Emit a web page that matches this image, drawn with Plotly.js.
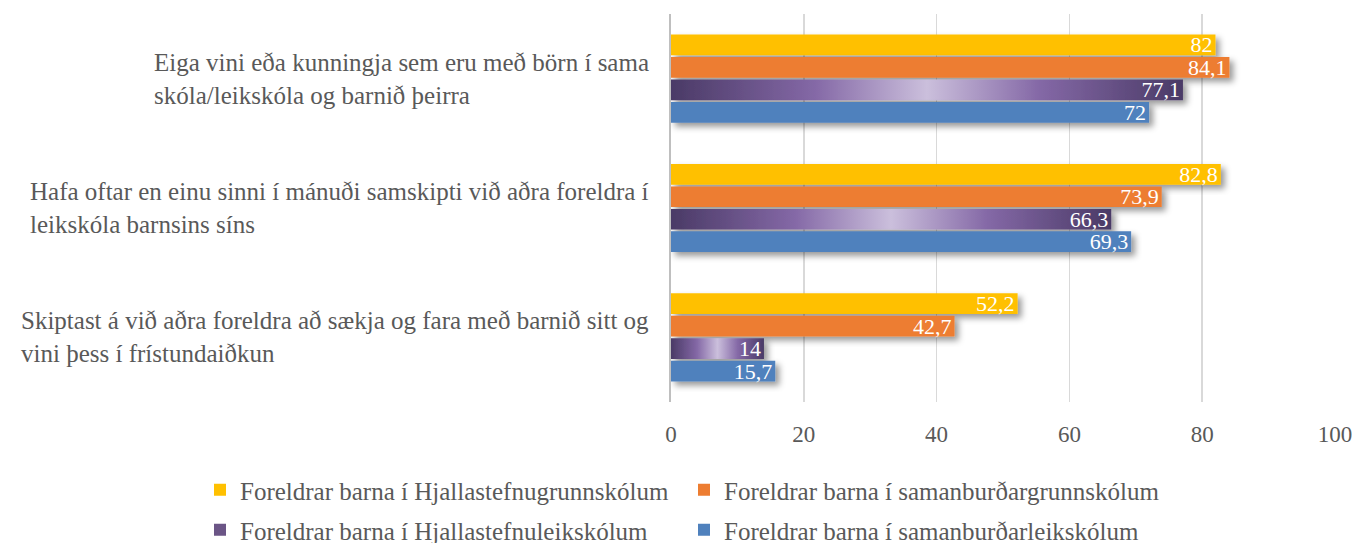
<!DOCTYPE html>
<html>
<head>
<meta charset="utf-8">
<script src="https://cdn.plot.ly/plotly-3.0.1.min.js"></script>
<style>html,body{margin:0;padding:0;background:#fff;}#chart{width:1357px;height:543px;}</style>
</head>
<body>
<div id="chart"></div>
<script>
// ---- data ----
const categories = [
  'Eiga vini eða kunningja sem eru með börn í sama<br>skóla/leikskóla og barnið þeirra',
  'Hafa oftar en einu sinni í mánuði samskipti við aðra foreldra í<br>leikskóla barnsins síns',
  'Skiptast á við aðra foreldra að sækja og fara með barnið sitt og<br>vini þess í frístundaiðkun'
];
const seriesNames = [
  'Foreldrar barna í Hjallastefnugrunnskólum',
  'Foreldrar barna í samanburðargrunnskólum',
  'Foreldrar barna í Hjallastefnuleikskólum',
  'Foreldrar barna í samanburðarleikskólum'
];
const hjallaGrunn = [82, 82.8, 52.2];
const samanGrunn = [84.1, 73.9, 42.7];
const hjallaLeik = [77.1, 66.3, 14];
const samanLeik = [72, 69.3, 15.7];
const xTicks = [0, 20, 40, 60, 80, 100];

// ---- styling ----
const FONT = 'Liberation Serif, Times New Roman, serif';
const GREY = '#595959';
const colors = ['#FFC000', '#ED7D31', '#6B5586', '#4F81BD'];
const seriesValues = [hjallaGrunn, samanGrunn, hjallaLeik, samanLeik];
const legendIds = ['legend', 'legend2', 'legend3', 'legend4'];
const fmt = v => String(v).replace('.', ',');

const traces = seriesValues.map((vals, i) => ({
  type: 'bar',
  orientation: 'h',
  name: seriesNames[i],
  y: categories,
  x: vals,
  text: vals.map(fmt),
  textposition: 'inside',
  insidetextanchor: 'end',
  textangle: 0,
  constraintext: 'none',
  textfont: {family: FONT, size: 22, color: '#ffffff'},
  marker: {color: colors[i], line: {width: 0}},
  legend: legendIds[i],
  hoverinfo: 'x+name'
}));

const annotations = categories.map(c => ({
  text: c,
  xref: 'paper', x: 0, xanchor: 'right', xshift: -20,
  yref: 'y', y: c, yanchor: 'middle',
  align: 'left',
  showarrow: false,
  font: {family: FONT, size: 25, color: GREY}
}));

function legendAt(px, py) {
  return {
    orientation: 'h',
    xref: 'container', x: px / 1357, xanchor: 'left',
    yref: 'container', y: 1 - py / 543, yanchor: 'middle',
    font: {family: FONT, size: 25, color: GREY},
    bgcolor: 'rgba(0,0,0,0)'
  };
}

const layout = {
  width: 1357, height: 543,
  margin: {l: 671, r: 22, t: 14, b: 141},
  paper_bgcolor: '#ffffff', plot_bgcolor: '#ffffff',
  barmode: 'group',
  bargap: 0.305,
  bargroupgap: 0.08,
  showlegend: true,
  xaxis: {
    range: [0, 100],
    tickvals: xTicks,
    ticktext: xTicks.map(String),
    showgrid: true, gridcolor: '#d9d9d9', gridwidth: 1.5,
    zeroline: false, showline: false,
    ticks: '',
    ticklabelstandoff: 16,
    tickfont: {family: FONT, size: 23, color: GREY},
    fixedrange: true
  },
  yaxis: {
    type: 'category',
    autorange: 'reversed',
    showticklabels: false,
    showgrid: false, zeroline: false,
    showline: true, linecolor: '#bfbfbf', linewidth: 2,
    ticks: '',
    fixedrange: true
  },
  legend: legendAt(200, 490),
  legend2: legendAt(684, 490),
  legend3: legendAt(200, 530),
  legend4: legendAt(684, 530),
  annotations: annotations
};

function decorate() {
  const svg = document.querySelector('#chart .main-svg');
  if (!svg) return;
  const NS = 'http://www.w3.org/2000/svg';
  let defs = svg.querySelector('defs');
  if (!defs) { defs = document.createElementNS(NS, 'defs'); svg.insertBefore(defs, svg.firstChild); }
  if (!document.getElementById('pgrad')) {
    const g = document.createElementNS(NS, 'linearGradient');
    g.setAttribute('id', 'pgrad');
    g.setAttribute('x1', '0'); g.setAttribute('x2', '1'); g.setAttribute('y1', '0'); g.setAttribute('y2', '0');
    [[0, '#4a3a66'], [0.28, '#8468a6'], [0.5, '#cbbfdc'], [0.72, '#8468a6'], [1, '#4a3a66']].forEach(([o, c]) => {
      const s = document.createElementNS(NS, 'stop');
      s.setAttribute('offset', o); s.setAttribute('stop-color', c);
      g.appendChild(s);
    });
    defs.appendChild(g);
    const f = document.createElementNS(NS, 'filter');
    f.setAttribute('id', 'bshadow');
    f.setAttribute('x', '-10%'); f.setAttribute('y', '-30%');
    f.setAttribute('width', '130%'); f.setAttribute('height', '180%');
    const d = document.createElementNS(NS, 'feDropShadow');
    d.setAttribute('dx', '4'); d.setAttribute('dy', '4'); d.setAttribute('stdDeviation', '3');
    d.setAttribute('flood-color', '#000'); d.setAttribute('flood-opacity', '0.4');
    f.appendChild(d);
    defs.appendChild(f);
  }
  const barTraces = document.querySelectorAll('#chart .barlayer .trace.bars');
  barTraces.forEach((t, i) => {
    t.querySelectorAll('.point path').forEach(p => {
      p.style.filter = 'url(#bshadow)';
      if (i === 2) p.style.fill = 'url(#pgrad)';
    });
  });
  document.querySelectorAll('#chart .legend .traces').forEach(tr => {
    const txt = tr.querySelector('.legendtext');
    if (txt && txt.textContent === seriesNames[2]) {
      tr.querySelectorAll('.legendpoints path').forEach(p => { p.style.fill = 'url(#pgrad)'; });
    }
  });
}

Plotly.newPlot('chart', traces, layout, {displayModeBar: false, staticPlot: true}).then(decorate);
</script>
</body>
</html>
